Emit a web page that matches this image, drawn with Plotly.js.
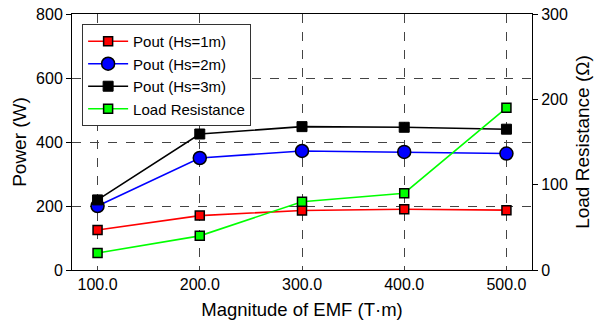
<!DOCTYPE html>
<html>
<head>
<meta charset="utf-8">
<script src="https://cdn.plot.ly/plotly-3.0.1.min.js"></script>
<style>
  html, body { margin: 0; padding: 0; background: #fff; }
  #chart { width: 595px; height: 326px; }
</style>
</head>
<body>
<div id="chart"></div>
<script>
// EMF magnitude (T·m)
const emf = [100, 200, 300, 400, 500];
const xTickLabels = ['100.0', '200.0', '300.0', '400.0', '500.0'];

// Output power (W) for each significant wave height
const poutHs1 = [125, 170, 186, 190, 187];
const poutHs2 = [200, 350, 372, 369, 364];
const poutHs3 = [219, 425, 448, 446, 440];

// Load resistance (Ω)
const loadResistance = [20, 40, 80, 90, 190];

const FONT = 'Liberation Sans, Arial, sans-serif';

const traces = [
  {
    x: emf, y: poutHs1, name: 'Pout (Hs=1m)', type: 'scatter', mode: 'lines+markers',
    line: { color: '#ff0000', width: 1.6 },
    marker: { symbol: 'square', size: 9, color: '#ff0000', line: { color: '#000', width: 1.5 } }
  },
  {
    x: emf, y: poutHs2, name: 'Pout (Hs=2m)', type: 'scatter', mode: 'lines+markers',
    line: { color: '#0000ff', width: 1.6 },
    marker: { symbol: 'circle', size: 13, color: '#0000ff', line: { color: '#000', width: 1.5 } }
  },
  {
    x: emf, y: poutHs3, name: 'Pout (Hs=3m)', type: 'scatter', mode: 'lines+markers',
    line: { color: '#000000', width: 1.6 },
    marker: { symbol: 'square', size: 10, color: '#000000', line: { color: '#000', width: 1 } }
  },
  {
    x: emf, y: loadResistance, name: 'Load Resistance', type: 'scatter', mode: 'lines+markers',
    yaxis: 'y2',
    line: { color: '#00ff00', width: 1.6 },
    marker: { symbol: 'square', size: 9, color: '#00ff00', line: { color: '#000', width: 1.5 } }
  }
];

const layout = {
  width: 595, height: 326,
  margin: { l: 72, r: 63, t: 14, b: 56 },
  paper_bgcolor: '#fff', plot_bgcolor: '#fff',
  font: { family: FONT, size: 16, color: '#000' },
  showlegend: true,
  legend: {
    x: 0.022, y: 0.961, xanchor: 'left', yanchor: 'top',
    bgcolor: '#fff', bordercolor: '#333', borderwidth: 1,
    font: { family: FONT, size: 15, color: '#000' },
    itemwidth: 40, tracegroupgap: 0
  },
  xaxis: {
    range: [75, 525],
    tickvals: emf, ticktext: xTickLabels,
    showline: true, linecolor: '#000', linewidth: 1, mirror: true,
    ticks: '', showgrid: true, gridcolor: '#444', griddash: 'dash', gridwidth: 1,
    zeroline: false,
    tickfont: { family: FONT, size: 16 },
    title: { text: 'Magnitude of EMF (T·m)', font: { family: FONT, size: 18.5 }, standoff: 10 }
  },
  yaxis: {
    range: [0, 800], tickvals: [0, 200, 400, 600, 800],
    showline: true, linecolor: '#000', linewidth: 1,
    ticks: 'outside', ticklen: 5, tickcolor: '#000',
    showgrid: true, gridcolor: '#444', griddash: 'dash', gridwidth: 1,
    zeroline: false,
    tickfont: { family: FONT, size: 16 },
    title: { text: 'Power (W)', font: { family: FONT, size: 19 }, standoff: 4 }
  },
  yaxis2: {
    range: [0, 300], tickvals: [0, 100, 200, 300],
    overlaying: 'y', side: 'right',
    showline: true, linecolor: '#000', linewidth: 1,
    ticks: 'outside', ticklen: 5, tickcolor: '#000',
    showgrid: false, zeroline: false,
    tickfont: { family: FONT, size: 16 },
    title: { text: 'Load Resistance (Ω)', font: { family: FONT, size: 19 }, standoff: 8 }
  }
};

Plotly.newPlot('chart', traces, layout, { displayModeBar: false, staticPlot: true });
</script>
</body>
</html>
